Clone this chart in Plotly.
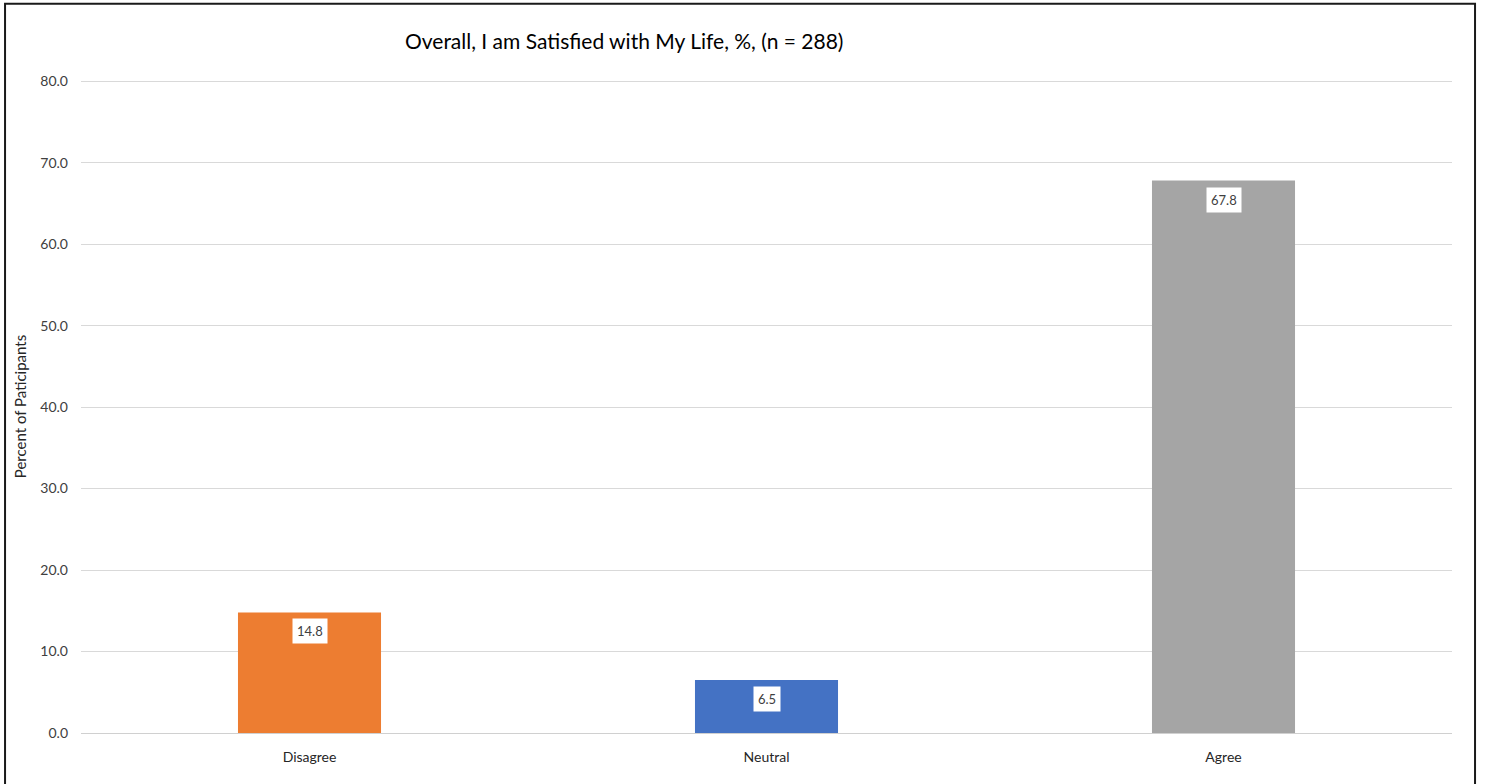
import plotly.graph_objects as go

categories = ["Disagree", "Neutral", "Agree"]
percents = [14.8, 6.5, 67.8]
bar_colors = ["#ED7D31", "#4472C4", "#A5A5A5"]
y_ticks = [0, 10, 20, 30, 40, 50, 60, 70, 80]
y_tick_labels = ["0.0", "10.0", "20.0", "30.0", "40.0", "50.0", "60.0", "70.0", "80.0"]

FONT = "Lato, 'Open Sans', sans-serif"

fig = go.Figure()
fig.add_trace(go.Bar(
    x=categories,
    y=percents,
    marker=dict(color=bar_colors, line=dict(width=0)),
    width=0.313,
    hoverinfo="x+y",
))

# value labels in white boxes just inside the top of each bar
for cat, val in zip(categories, percents):
    fig.add_annotation(
        x=cat, y=val, xref="x", yref="y",
        text=f"{val:.1f}", showarrow=False,
        yanchor="top", yshift=-6,
        bgcolor="white", borderpad=4,
        font=dict(family=FONT, size=13, color="#404040"),
    )

fig.update_layout(
    width=1485, height=784,
    margin=dict(l=81, r=33, t=80, b=51),
    paper_bgcolor="white", plot_bgcolor="white",
    showlegend=False,
    title=dict(
        text="Overall, I am Satisfied with My Life, %, (n = 288)",
        x=405 / 1485, xanchor="left", xref="container",
        y=1 - 42 / 784, yanchor="middle", yref="container",
        font=dict(family=FONT, size=21, color="#000000"),
    ),
    font=dict(family=FONT, size=14, color="#404040"),
    xaxis=dict(
        range=[-0.5, 2.5], showgrid=False, showline=False, zeroline=False,
        ticks="", ticklabelstandoff=14,
        tickfont=dict(family=FONT, size=14, color="#262626"),
    ),
    yaxis=dict(
        range=[0, 80.15], tickvals=y_ticks, ticktext=y_tick_labels,
        showgrid=True, gridcolor="#D9D9D9", gridwidth=1,
        zeroline=True, zerolinecolor="#D0D0D0", zerolinewidth=1,
        showline=False, ticks="", ticklabelstandoff=12,
        tickfont=dict(family=FONT, size=14, color="#404040"),
        title=dict(text="Percent of Paticipants", standoff=10,
                   font=dict(family=FONT, size=15, color="#262626")),
    ),
    shapes=[dict(
        type="rect", xref="paper", yref="paper",
        x0=-0.0554, x1=1.0168, y0=-0.09, y1=1.1166,
        line=dict(color="#1a1a1a", width=2), fillcolor="rgba(0,0,0,0)",
        layer="above",
    )],
)

fig.write_html("out.html")
